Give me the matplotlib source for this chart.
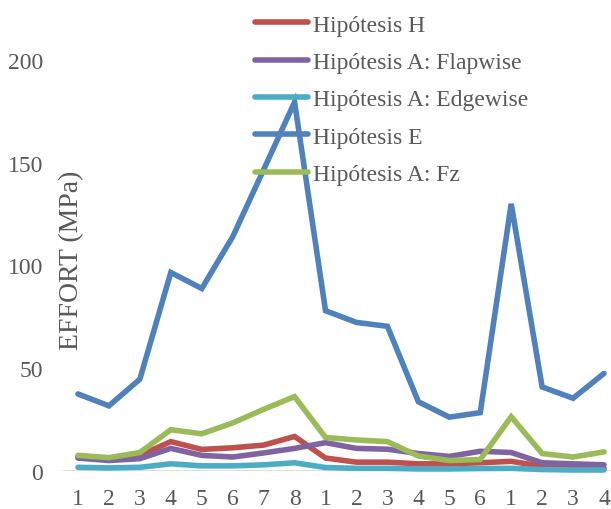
import matplotlib
matplotlib.use("Agg")
import matplotlib.pyplot as plt

x_labels = ["1", "2", "3", "4", "5", "6", "7", "8", "1", "2", "3", "4", "5", "6", "1", "2", "3", "4"]

hip_H = [6.8, 6.0, 7.6, 14.3, 10.5, 11.3, 12.6, 16.8, 6.3, 4.3, 4.3, 3.5, 3.5, 4.0, 4.7, 2.3, 1.8, 1.3]
hip_A_flap = [6.3, 5.1, 6.0, 11.0, 7.6, 6.8, 8.8, 11.0, 13.8, 11.0, 10.6, 8.5, 7.1, 9.6, 9.0, 4.0, 3.5, 3.0]
hip_A_edge = [1.8, 1.5, 1.8, 3.5, 2.5, 2.5, 3.0, 4.0, 1.7, 1.3, 1.3, 1.0, 1.0, 1.2, 1.3, 0.7, 0.5, 0.5]
hip_E = [37.5, 31.7, 44.7, 96.6, 88.8, 114.0, 146.6, 179.5, 78.0, 72.3, 70.4, 33.7, 26.2, 28.4, 130.0, 40.9, 35.4, 47.5]
hip_A_fz = [7.6, 6.5, 9.0, 20.1, 18.1, 23.4, 30.0, 36.2, 16.3, 15.1, 14.3, 7.3, 5.1, 5.6, 26.4, 8.5, 6.8, 9.3]

series_names = ["Hipótesis H", "Hipótesis A: Flapwise", "Hipótesis A: Edgewise", "Hipótesis E", "Hipótesis A: Fz"]
series_vals = [hip_H, hip_A_flap, hip_A_edge, hip_E, hip_A_fz]
colors = ["#C0504D", "#8064A2", "#4BACC6", "#4F81BD", "#9BBB59"]

y_ticks = [0, 50, 100, 150, 200]

plt.rcParams["font.family"] = ["Liberation Serif", "DejaVu Serif"]
txt = "#595959"

fig = plt.figure(figsize=(6.11, 5.10), dpi=100)
W, H = 611, 510
ax = fig.add_axes([62.5 / W, 1 - 472 / H, (619.5 - 62.5) / W, (472 - 61) / H])

xs = list(range(len(x_labels)))
for name, vals, c in zip(series_names, series_vals, colors):
    ax.plot(xs, vals, color=c, lw=4, label=name, solid_capstyle="round",
            solid_joinstyle="miter", clip_on=False)

ax.axhline(0, color="#D9D9D9", lw=1.2, zorder=0.5)
ax.set_xlim(-0.5, 17.5)
ax.set_ylim(0, 200)
ax.set_xticks(xs)
ax.set_xticklabels(x_labels)
ax.set_yticks(y_ticks)
ax.tick_params(axis="both", length=0, labelsize=17, colors=txt)
ax.tick_params(axis="x", pad=12)
ax.tick_params(axis="y", pad=14)
for s in ax.spines.values():
    s.set_visible(False)

fig.text(72 / W, 1 - 260 / H, "EFFORT (MPa)", rotation=90, ha="center", va="center",
         fontsize=20, color=txt)

leg = ax.legend(loc="upper left", bbox_to_anchor=(255 / W, 1 - 15 / H),
                bbox_transform=fig.transFigure, frameon=False, fontsize=17,
                handlelength=2.25, handletextpad=0.21, labelspacing=0.67,
                borderpad=0, borderaxespad=0)
for t in leg.get_texts():
    t.set_color(txt)

fig.savefig("out.png", dpi=100)
